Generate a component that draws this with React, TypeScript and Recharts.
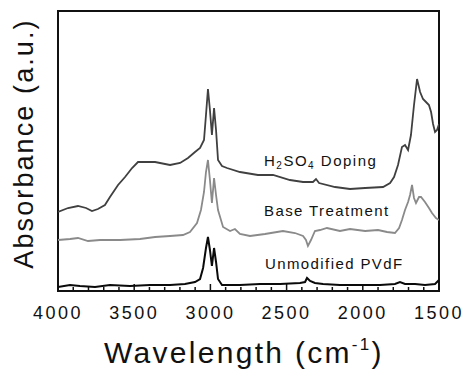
import { Line, LineChart, ReferenceArea, ReferenceLine, XAxis, YAxis } from "recharts";

// wavenumber (cm-1) / absorbance, arbitrary units
const dopingWn = [
  4000, 3934, 3869, 3816, 3777, 3738, 3692, 3659, 3606, 3560, 3514, 3475, 3363,
  3265, 3199, 3147, 3101, 3068, 3042, 3029, 3016, 3003, 2990, 2976, 2963, 2950,
  2924, 2891, 2806, 2688, 2589, 2478, 2392, 2327, 2307, 2287, 2182, 2084, 1985,
  1867, 1821, 1795, 1769, 1743, 1723, 1703, 1684, 1664, 1644, 1624, 1605, 1579,
  1566, 1552, 1539, 1526, 1513, 1500,
];
const dopingAbs = [
  79, 83, 85, 83, 80, 82, 86, 94, 106, 114, 123, 129, 129, 126, 128, 133, 139,
  143, 151, 176, 202, 181, 156, 183, 161, 131, 125, 123, 119, 116, 116, 111, 109,
  109, 112, 108, 104, 102, 103, 104, 108, 114, 126, 144, 146, 141, 156, 186, 212,
  199, 192, 188, 186, 179, 167, 159, 161, 167,
];

const baseWn = [
  4000, 3921, 3869, 3803, 3724, 3593, 3462, 3363, 3265, 3180, 3134, 3088, 3062,
  3042, 3029, 3016, 3003, 2990, 2976, 2963, 2950, 2917, 2871, 2839, 2806, 2740,
  2642, 2524, 2445, 2392, 2373, 2360, 2340, 2314, 2281, 2235, 2150, 2084, 1985,
  1900, 1841, 1789, 1762, 1743, 1723, 1703, 1690, 1677, 1664, 1651, 1631, 1618,
  1592, 1566, 1546, 1520, 1500,
];
const baseAbs = [
  51, 52, 53, 50, 51, 51, 52, 54, 55, 56, 59, 68, 81, 99, 119, 131, 111, 88, 113,
  96, 81, 64, 60, 62, 57, 55, 57, 60, 58, 55, 51, 45, 51, 60, 61, 63, 60, 62, 60,
  61, 59, 58, 63, 71, 81, 89, 96, 106, 93, 88, 94, 94, 89, 83, 78, 73, 71,
];

const pvdfWn = [
  4000, 3921, 3856, 3757, 3659, 3528, 3396, 3265, 3167, 3101, 3068, 3048, 3029,
  3016, 3003, 2990, 2976, 2963, 2950, 2924, 2806, 2674, 2543, 2412, 2379, 2366,
  2346, 2314, 2261, 2150, 2018, 1887, 1789, 1756, 1723, 1657, 1592, 1526, 1500,
];
const pvdfAbs = [
  4, 6, 5, 4, 6, 5, 6, 6, 7, 9, 12, 23, 43, 54, 41, 25, 43, 29, 12, 6, 6, 7, 7, 8,
  9, 13, 10, 8, 7, 6, 6, 6, 7, 9, 7, 7, 6, 7, 11,
];

const minorTicks = [
  4000, 3900, 3800, 3700, 3600, 3500, 3400, 3300, 3200, 3100, 3000, 2900, 2800,
  2700, 2600, 2500, 2400, 2300, 2200, 2100, 2000, 1900, 1800, 1700, 1600, 1500,
];
const majorTicks = [4000, 3500, 3000, 2500, 2000, 1500];

const toRows = (wn: number[], ab: number[]) =>
  wn.map((w, i) => ({ wn: w, abs: ab[i] }));

const FONT = '"Liberation Sans", Arial, Helvetica, sans-serif';

export default function App() {
  return (
    <div style={{ position: "absolute", left: 0, top: 0, width: 467, height: 369, background: "#fff" }}>
      <LineChart
        width={467}
        height={369}
        margin={{ top: 11, right: 28, left: 58, bottom: 48 }}
      >
        <XAxis
          dataKey="wn"
          type="number"
          domain={[1500, 4000]}
          reversed
          ticks={majorTicks}
          interval={0}
          tick={{ fill: "#111", fontSize: 18, fontFamily: FONT, letterSpacing: 2.5 }}
          tickSize={0}
          tickMargin={15}
          tickLine={false}
          height={30}
          axisLine={{ stroke: "#111", strokeWidth: 2 }}
          allowDataOverflow
        />
        <YAxis type="number" domain={[0, 280]} hide allowDataOverflow />
        <ReferenceArea
          x1={4000}
          x2={1500}
          y1={0}
          y2={280}
          fill="none"
          fillOpacity={0}
          stroke="#111"
          strokeWidth={2}
          ifOverflow="visible"
        />
        {/* inward ticks on the bottom axis */}
        {minorTicks.map((t) => (
          <ReferenceLine
            key={t}
            segment={[
              { x: t, y: 0 },
              { x: t, y: majorTicks.includes(t) ? 7 : 4 },
            ]}
            stroke="#111"
            strokeWidth={1.5}
            ifOverflow="visible"
          />
        ))}
        <Line
          data={toRows(dopingWn, dopingAbs)}
          dataKey="abs"
          type="linear"
          stroke="#404040"
          strokeWidth={1.8}
          dot={false}
          isAnimationActive={false}
        />
        <Line
          data={toRows(baseWn, baseAbs)}
          dataKey="abs"
          type="linear"
          stroke="#8a8a8a"
          strokeWidth={1.8}
          dot={false}
          isAnimationActive={false}
        />
        <Line
          data={toRows(pvdfWn, pvdfAbs)}
          dataKey="abs"
          type="linear"
          stroke="#0a0a0a"
          strokeWidth={2}
          dot={false}
          isAnimationActive={false}
        />
      </LineChart>
      <svg
        width={467}
        height={369}
        style={{ position: "absolute", left: 0, top: 0, pointerEvents: "none" }}
        fontFamily={FONT}
        fill="#111"
      >
        <text x={264} y={166} fontSize={15} letterSpacing={1.5}>
          H<tspan fontSize={10} dy={3}>2</tspan>
          <tspan dy={-3}>SO</tspan>
          <tspan fontSize={10} dy={3}>4</tspan>
          <tspan dy={-3}> Doping</tspan>
        </text>
        <text x={264} y={216} fontSize={15} letterSpacing={1.4}>
          Base Treatment
        </text>
        <text x={265} y={269} fontSize={15} letterSpacing={1.4}>
          Unmodified PVdF
        </text>
        <text x={104} y={363} fontSize={30} letterSpacing={2.3}>
          Wavelength (cm<tspan fontSize={17} dy={-13}>-1</tspan>
          <tspan dy={13}>)</tspan>
        </text>
        <text
          x={0}
          y={0}
          transform="translate(33 143.5) rotate(-90)"
          textAnchor="middle"
          fontSize={27}
          letterSpacing={2.1}
        >
          Absorbance (a.u.)
        </text>
      </svg>
    </div>
  );
}
